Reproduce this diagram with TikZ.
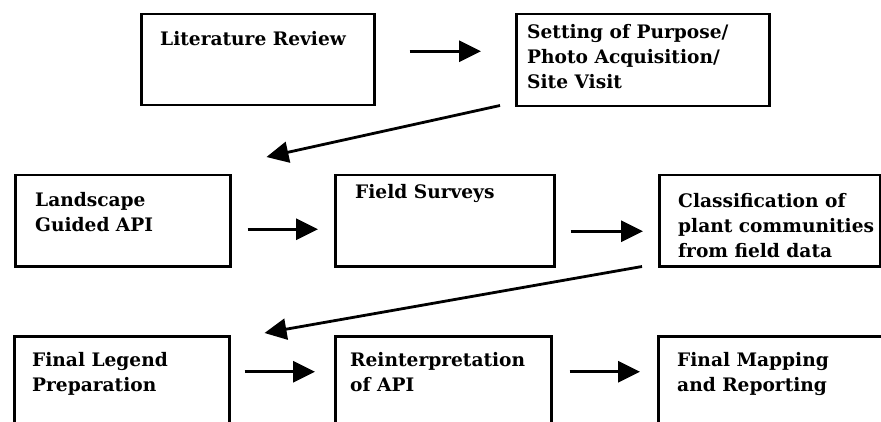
\documentclass[tikz,border=0pt]{standalone}
\usepackage{fontspec}
\setmainfont{DejaVu Serif}[BoldFont={DejaVu Serif Bold}]
\usetikzlibrary{arrows.meta}
\begin{document}
\begin{tikzpicture}[x=1pt,y=-1pt,
  box/.style={draw=black, line width=2.5pt, rectangle, anchor=north west, inner sep=0pt},
  lbl/.style={anchor=north west, inner sep=0pt, align=left, font=\fontsize{18.6}{25}\selectfont\bfseries},
  arr/.style={line width=2.8pt, -{Triangle[length=22pt,width=21pt]}}]
\clip (0,0) rectangle (881,422);
% row 1
\node[box, minimum width=233pt, minimum height=91pt] (lit) at (140,13) {};
\node[lbl] (litT) at ([shift={(20,18)}]lit.north west) {Literature Review};
\node[box, minimum width=253pt, minimum height=92pt] (set) at (515,13) {};
\node[lbl] (setT) at ([shift={(12,11)}]set.north west) {Setting of Purpose/\\Photo Acquisition/\\Site Visit};
% row 2
\node[box, minimum width=215pt, minimum height=91pt] (land) at (14,174) {};
\node[lbl] (landT) at ([shift={(21,18)}]land.north west) {Landscape\\Guided API};
\node[box, minimum width=219pt, minimum height=91pt] (field) at (334,174) {};
\node[lbl] (fieldT) at ([shift={(21,10)}]field.north west) {Field Surveys};
\node[box, minimum width=221pt, minimum height=91pt] (class) at (658,174) {};
\node[lbl] (classT) at ([shift={(20,19)}]class.north west) {Classification of\\plant communities\\from field data};
% row 3
\node[box, minimum width=215pt, minimum height=100pt] (fleg) at (13,335) {};
\node[lbl] (flegT) at ([shift={(19,17)}]fleg.north west) {Final Legend\\Preparation};
\node[box, minimum width=216pt, minimum height=100pt] (reint) at (334,335) {};
\node[lbl] (reintT) at ([shift={(16,17)}]reint.north west) {Reinterpretation\\of API};
\node[box, minimum width=240pt, minimum height=100pt] (map) at (657,335) {};
\node[lbl] (mapT) at ([shift={(20,17)}]map.north west) {Final Mapping\\and Reporting};
% arrows row 1
\draw[arr] ([shift={(34,-8.5)}]lit.east) -- ([shift={(-34,-9)}]set.west);
\draw[arr] ([shift={(-15,-2)}]set.south west) -- ([shift={(35,-17)}]land.north east);
% arrows row 2
\draw[arr] ([shift={(16,8.5)}]land.east) -- ([shift={(-16,8.5)}]field.west);
\draw[arr] ([shift={(15,10.5)}]field.east) -- ([shift={(-15,10.5)}]class.west);
\draw[arr] ([shift={(-16,-1)}]class.south west) -- ([shift={(34,-2)}]fleg.north east);
% arrows row 3
\draw[arr] ([shift={(14,-14.5)}]fleg.east) -- ([shift={(-19,-14.5)}]reint.west);
\draw[arr] ([shift={(17,-14.5)}]reint.east) -- ([shift={(-17,-14.5)}]map.west);
\end{tikzpicture}
\end{document}
